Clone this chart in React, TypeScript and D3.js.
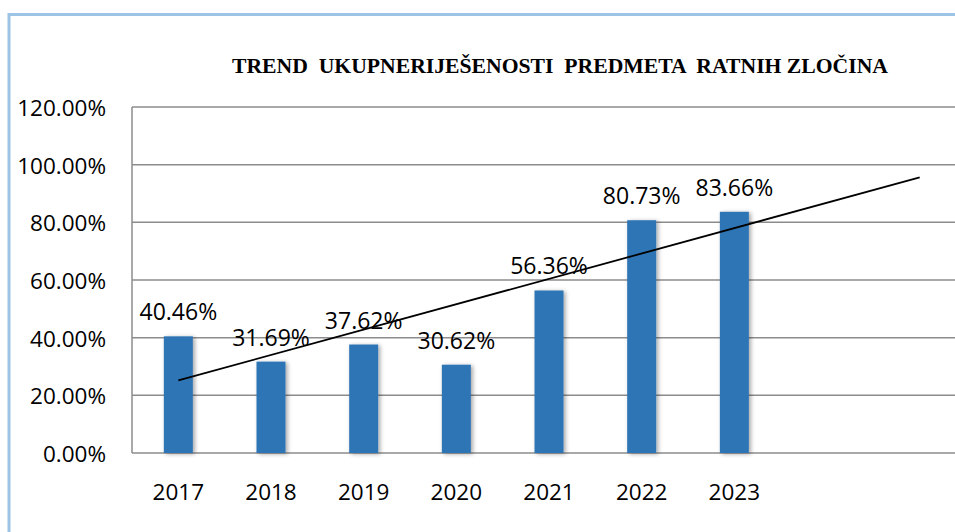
import React from "react";
import * as d3 from "d3";

const years = ["2017", "2018", "2019", "2020", "2021", "2022", "2023"];
const values = [40.46, 31.69, 37.62, 30.62, 56.36, 80.73, 83.66];
const forecastPeriods = 2;
const yTicks = [0, 20, 40, 60, 80, 100, 120];
const title = "TREND  UKUPNERIJEŠENOSTI  PREDMETA  RATNIH ZLOČINA";

const W = 955;
const H = 532;
const plotLeft = 132;
const plotTop = 107;
const plotBottom = 453;

export default function App() {
  const slots = d3.range(years.length + forecastPeriods).map(String);
  const step = 92.67;
  const x = d3
    .scaleBand<string>()
    .domain(slots)
    .range([plotLeft, plotLeft + step * slots.length])
    .padding(0);
  const y = d3.scaleLinear().domain([0, 120]).range([plotBottom, plotTop]);
  const plotRight = plotLeft + step * slots.length;
  const cx = (i: number) => (x(String(i)) as number) + x.bandwidth() / 2;
  const barW = 29;

  // linear trendline (least squares) over data, extended forward
  const n = values.length;
  const mx = d3.mean(d3.range(n)) as number;
  const my = d3.mean(values) as number;
  const sxy = d3.sum(values, (v, i) => (i - mx) * (v - my));
  const sxx = d3.sum(d3.range(n), (i) => (i - mx) * (i - mx));
  const slope = sxy / sxx;
  const intercept = my - slope * mx;
  const lastIdx = n - 1 + forecastPeriods;
  const trend = d3.line<number>()
    .x((i) => cx(i))
    .y((i) => y(intercept + slope * i))([0, lastIdx]) as string;

  const font = "'Open Sans', 'Liberation Sans', sans-serif";

  return (
    <svg
      width={W}
      height={H}
      style={{ position: "absolute", left: 0, top: 0, background: "#fff" }}
    >
      <defs>
        <filter id="shadow" x="-30%" y="-10%" width="160%" height="120%">
          <feDropShadow dx="2" dy="1" stdDeviation="2" floodColor="#000" floodOpacity="0.35" />
        </filter>
      </defs>
      <rect x={0} y={0} width={W} height={H} fill="#fff" />
      {/* chart border */}
      <rect x={9} y={14.5} width={W + 20} height={H + 20} fill="none" stroke="#9DC3E6" strokeWidth={3} />

      {/* title */}
      <text
        x={232}
        y={73}
        fontFamily="'Liberation Serif', 'Times New Roman', serif"
        fontWeight="bold"
        fontSize={22}
        textLength={656}
        lengthAdjust="spacingAndGlyphs"
        style={{ whiteSpace: "pre" }}
        fill="#000"
      >
        {title}
      </text>

      {/* gridlines */}
      {yTicks.map((t) => (
        <line
          key={t}
          x1={plotLeft}
          x2={plotRight}
          y1={y(t)}
          y2={y(t)}
          stroke="#8c8c8c"
          strokeWidth={1.5}
        />
      ))}
      <line x1={plotLeft} x2={plotLeft} y1={plotTop} y2={plotBottom} stroke="#8c8c8c" strokeWidth={1.5} />

      {/* y tick labels */}
      {yTicks.map((t) => (
        <text
          key={t}
          x={106}
          y={y(t)}
          dy="0.4em"
          textAnchor="end"
          fontFamily={font}
          fontSize={22.5}
          fill="#000"
        >
          {t.toFixed(2) + "%"}
        </text>
      ))}

      {/* bars */}
      {values.map((v, i) => (
        <rect
          key={i}
          x={cx(i) - barW / 2}
          y={y(v)}
          width={barW}
          height={plotBottom - y(v)}
          fill="#2E75B6"
          filter="url(#shadow)"
        />
      ))}

      {/* x labels */}
      {years.map((yr, i) => (
        <text
          key={yr}
          x={cx(i)}
          y={500}
          textAnchor="middle"
          fontFamily={font}
          fontSize={22.5}
          fill="#000"
        >
          {yr}
        </text>
      ))}

      {/* data labels */}
      {values.map((v, i) => (
        <text
          key={i}
          x={cx(i)}
          y={y(v) - 16}
          textAnchor="middle"
          fontFamily={font}
          fontSize={23}
          fill="#000"
        >
          {v.toFixed(2) + "%"}
        </text>
      ))}

      {/* trendline */}
      <path d={trend} fill="none" stroke="#000" strokeWidth={1.8} />
    </svg>
  );
}
